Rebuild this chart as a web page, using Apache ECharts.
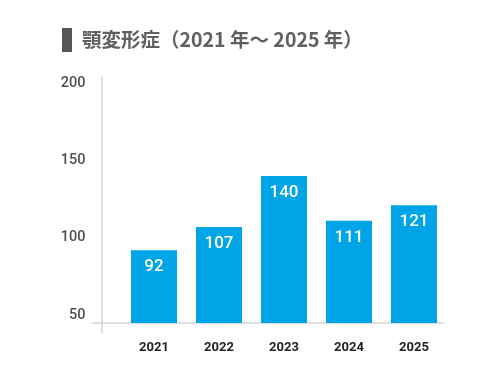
<!DOCTYPE html>
<html>
<head>
<meta charset="utf-8">
<script src="https://cdn.jsdelivr.net/npm/echarts@6/dist/echarts.min.js"></script>
<style>html,body{margin:0;padding:0;background:#fff}#c{width:500px;height:380px}</style>
</head>
<body>
<div id="c"></div>
<script>
const titleText = '顎変形症（2021 年～ 2025 年）';
const categories = ['2021', '2022', '2023', '2024', '2025'];
const values = [92, 107, 140, 111, 121];
const yTickValues = [50, 100, 150, 200];

const chart = echarts.init(document.getElementById('c'), null, {renderer: 'canvas'});
const lineColor = '#d6d6d6';
chart.setOption({
  backgroundColor: '#fff',
  animation: false,
  title: {
    left: 57, top: 23,
    text: '{m|}{t|' + titleText + '}',
    textStyle: {
      fontWeight: 'bold',
      rich: {
        m: {width: 10, height: 24, backgroundColor: '#555555'},
        t: {fontSize: 19.5, fontWeight: 'bold', color: '#606060', fontFamily: 'Noto Sans CJK JP', padding: [0, 0, 0, 10]}
      }
    }
  },
  grid: [
    {left: 121.5, right: 53.5, top: 83, bottom: 57},
    {left: 92, right: 57, top: 77, bottom: 47}
  ],
  xAxis: [
    {
      type: 'category', gridIndex: 0, data: categories,
      axisLine: {show: false}, axisTick: {show: false},
      axisLabel: {margin: 18, fontSize: 13, fontWeight: 'bold', color: '#222', fontFamily: 'Roboto'}
    },
    {
      type: 'value', gridIndex: 1, min: -10, max: 341,
      axisLine: {show: true, onZero: true, lineStyle: {color: lineColor, width: 1.5}},
      axisTick: {show: false}, axisLabel: {show: false}, splitLine: {show: false}
    }
  ],
  yAxis: [
    {
      type: 'value', gridIndex: 0, min: 45, max: 200, splitNumber: 3,
      axisLine: {show: false}, axisTick: {show: false}, splitLine: {show: false},
      axisLabel: {
        showMinLabel: false, margin: 36, fontSize: 14.5, fontWeight: 500, color: '#505050', fontFamily: 'Roboto',
        formatter: v => yTickValues.includes(v) ? String(v) : ''
      }
    },
    {
      type: 'value', gridIndex: 1, min: -10, max: 246,
      axisLine: {show: true, onZero: true, lineStyle: {color: lineColor, width: 1.5}},
      axisTick: {show: false}, axisLabel: {show: false}, splitLine: {show: false}
    }
  ],
  series: [{
    type: 'bar', xAxisIndex: 0, yAxisIndex: 0,
    data: values, barWidth: 46,
    itemStyle: {color: '#00a5e8'},
    label: {show: true, position: 'insideTop', distance: 8, color: '#fff', fontSize: 17, fontWeight: 500, fontFamily: 'Roboto'}
  }]
});
</script>
</body>
</html>
